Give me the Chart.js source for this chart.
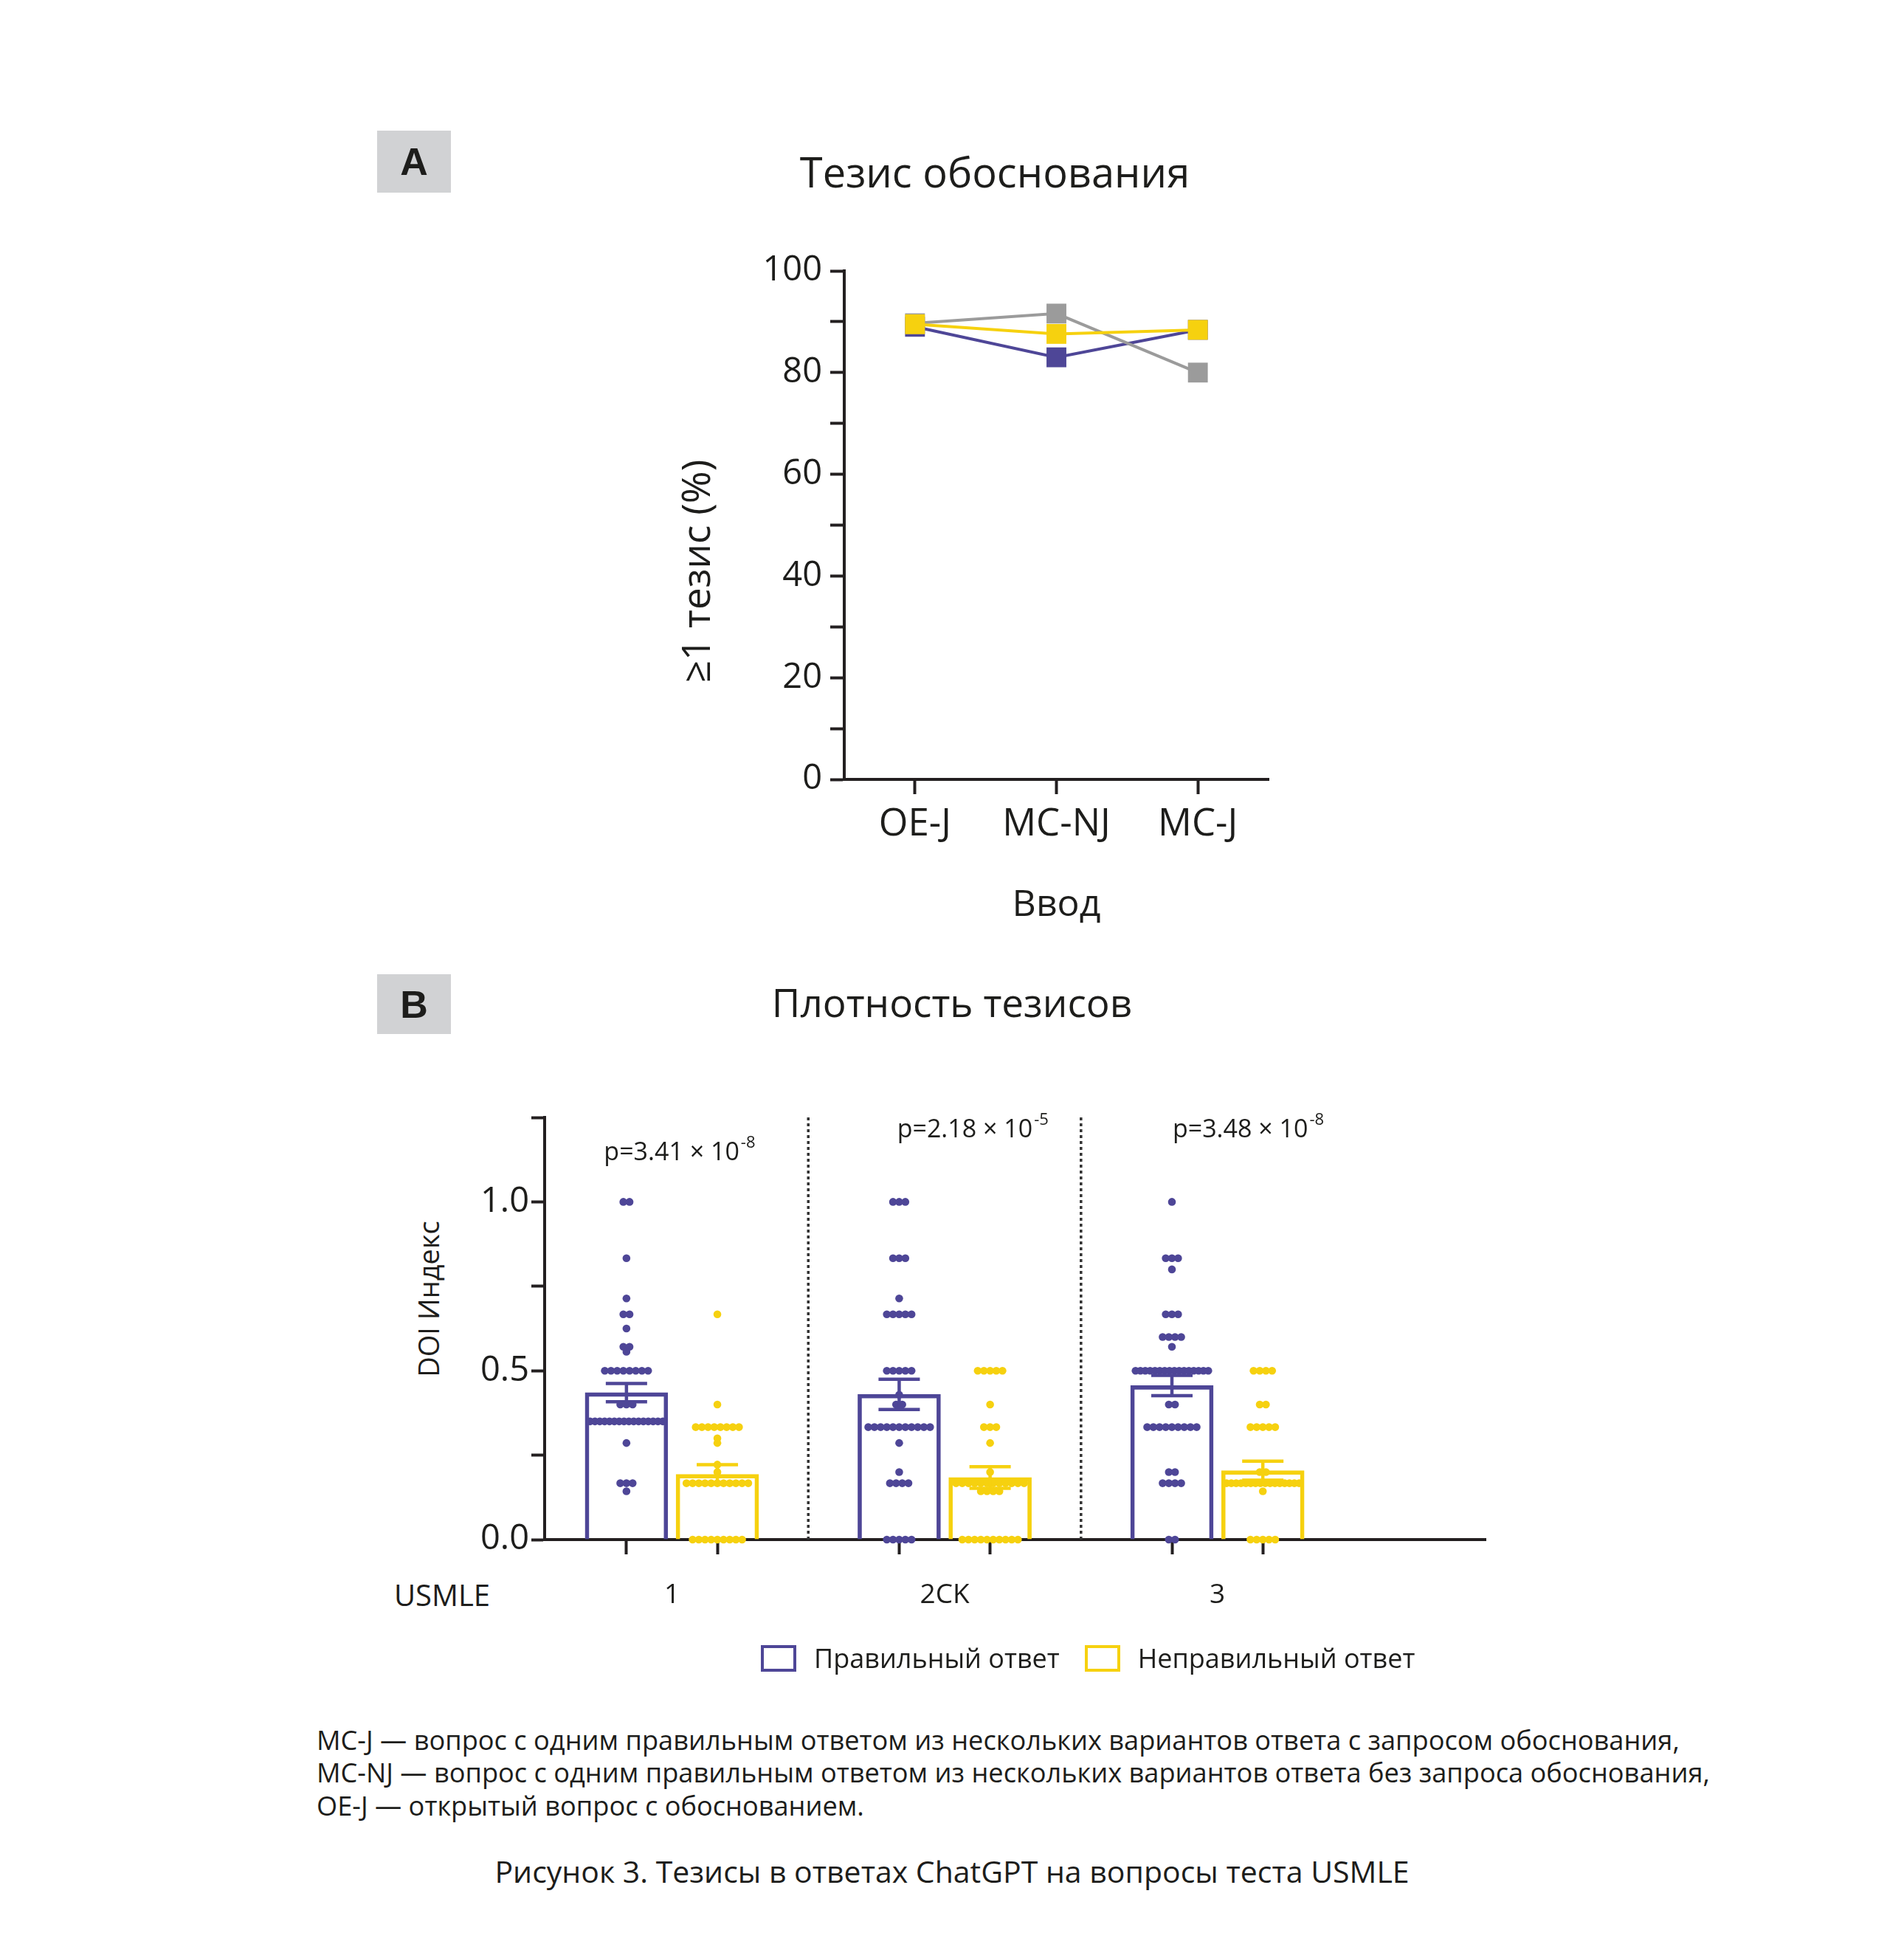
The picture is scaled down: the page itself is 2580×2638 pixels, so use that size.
<!DOCTYPE html>
<html>
<head>
<meta charset="utf-8">
<script src="https://cdn.jsdelivr.net/npm/chart.js@4.4.1/dist/chart.umd.min.js"></script>
<style>
  body { margin: 0; background: #fff; width: 2580px; height: 2638px; position: relative; overflow: hidden;
         font-family: "Open Sans", Lato, sans-serif; color: #1d1d1b; }
  .tag { position: absolute; width: 100px; height: 84px; background: #d1d2d4;
         font: bold 52px "Liberation Sans", Arial, sans-serif; display: flex; align-items: center; justify-content: center; }
  .centered { position: absolute; transform: translate(-50%, -50%); white-space: nowrap; }
  .vertical { position: absolute; transform: translate(-50%, -50%) rotate(-90deg); white-space: nowrap; }
  .chart-box { position: absolute; }
  .legend { position: absolute; left: 1031px; top: 2222px; display: flex; align-items: center; font-size: 36px; white-space: nowrap; }
  .legend .box { width: 48px; height: 36px; box-sizing: border-box; border: 4px solid; margin-right: 24px; }
  .legend .item { display: flex; align-items: center; margin-right: 34px; }
  .note { position: absolute; left: 429px; font-size: 36.2px; white-space: nowrap; }
</style>
</head>
<body>

<div class="tag" style="left:511px; top:177px;">A</div>
<div class="centered" style="left:1348px; top:232px; font-size:56px;">Тезис обоснования</div>
<div class="vertical" style="left:941px; top:774px; font-size:53px;">≥1 тезис (%)</div>
<div class="chart-box" style="left:800px; top:300px;"><canvas id="chartA" width="1000" height="1000"></canvas></div>

<div class="tag" style="left:511px; top:1320px; height:81px;">B</div>
<div class="centered" style="left:1290px; top:1357px; font-size:53px;">Плотность тезисов</div>
<div class="vertical" style="left:580px; top:1760px; font-size:38px;">DOI Индекс</div>
<div class="centered" style="left:599px; top:2160px; font-size:40px;">USMLE</div>
<div class="chart-box" style="left:400px; top:1450px;"><canvas id="chartB" width="1700" height="800"></canvas></div>

<div class="legend">
  <div class="item"><div class="box" style="border-color:#4e4697"></div>Правильный ответ</div>
  <div class="item"><div class="box" style="border-color:#f6d10f"></div>Неправильный ответ</div>
</div>

<div class="note" style="top:2332px;">MC-J — вопрос с одним правильным ответом из нескольких вариантов ответа с запросом обоснования,</div>
<div class="note" style="top:2376px;">MC-NJ — вопрос с одним правильным ответом из нескольких вариантов ответа без запроса обоснования,</div>
<div class="note" style="top:2421px;">OE-J — открытый вопрос с обоснованием.</div>
<div class="centered" style="left:1290px; top:2535px; font-size:41px;">Рисунок 3. Тезисы в ответах ChatGPT на вопросы теста USMLE</div>

<script>
const PURPLE = '#4e4697';
const YELLOW = '#f6d10f';
const GRAY = '#9b9b9b';
const AXIS = '#231f20';
const FONT = '"Open Sans", Lato, sans-serif';

// Panel A: share of answers with at least one justification thesis (%)
const inputCategories = ['OE-J', 'MC-NJ', 'MC-J'];
const purpleSeries = [89.0, 83.0, 88.4];
const graySeries = [89.7, 91.6, 80.0];
const yellowSeries = [89.5, 87.6, 88.4];
const percentLabels = [0, 20, 40, 60, 80, 100];

// Panel B: DOI index per question, [value, count]
const usmleSteps = ['1', '2CK', '3'];
const step1Correct = [[1, 2], [0.833, 1], [0.714, 1], [0.667, 2], [0.625, 1], [0.571, 2], [0.556, 1],
  [0.5, 8], [0.4, 3], [0.35, 16], [0.286, 1], [0.167, 3], [0.143, 1]];
const step1Incorrect = [[0.667, 1], [0.4, 1], [0.333, 8], [0.3, 1], [0.286, 1], [0.222, 1], [0.2, 1],
  [0.167, 11], [0, 9]];
const step2Correct = [[1, 3], [0.833, 3], [0.714, 1], [0.667, 5], [0.5, 5], [0.429, 1], [0.4, 2],
  [0.333, 11], [0.286, 1], [0.2, 1], [0.167, 4], [0, 5]];
const step2Incorrect = [[0.5, 5], [0.4, 1], [0.333, 3], [0.286, 1], [0.2, 1], [0.167, 12], [0.143, 4], [0, 10]];
const step3Correct = [[1, 1], [0.833, 3], [0.8, 1], [0.667, 3], [0.6, 4], [0.571, 1], [0.5, 16], [0.4, 2],
  [0.333, 9], [0.2, 2], [0.167, 4], [0, 2]];
const step3Incorrect = [[0.5, 4], [0.4, 2], [0.333, 5], [0.2, 2], [0.167, 16], [0.143, 1], [0, 5]];
const meanCorrect = [0.435, 0.43, 0.456];
const semCorrect = [0.027, 0.045, 0.03];
const meanIncorrect = [0.193, 0.184, 0.204];
const semIncorrect = [0.029, 0.032, 0.028];
const pValues = [['3.41', '-8'], ['2.18', '-5'], ['3.48', '-8']];
const doiLabels = [0, 0.5, 1.0];

// layout helpers (positions on the linear x axis of panel B)
const correctX = i => 3 * i + 1;
const incorrectX = i => 3 * i + 2;
const pLabelAt = [[1.585, 1.145], [4.81, 1.213], [7.84, 1.213]];
const DOT_STEP = 0.068;
const MAX_SPREAD = 0.8;

function swarm(pairs, center) {
  const pts = [];
  pairs.forEach(([v, n]) => {
    const step = n > 1 ? Math.min(DOT_STEP, MAX_SPREAD / (n - 1)) : 0;
    for (let k = 0; k < n; k++) pts.push({ x: center + (k - (n - 1) / 2) * step, y: v });
  });
  return pts;
}

Chart.defaults.font.family = FONT;
Chart.defaults.color = '#1d1d1b';

// ---------- Panel A ----------
function lineSet(data, color, order) {
  return {
    data: data, borderColor: color, backgroundColor: color, borderWidth: 4, tension: 0,
    pointStyle: 'rect', pointRadius: 19, pointBorderWidth: 0, order: order
  };
}

new Chart(document.getElementById('chartA'), {
  type: 'line',
  data: {
    labels: inputCategories,
    datasets: [lineSet(yellowSeries, YELLOW, 1), lineSet(graySeries, GRAY, 2), lineSet(purpleSeries, PURPLE, 3)]
  },
  options: {
    responsive: false,
    animation: false,
    layout: { padding: { left: 0, top: 67, right: 81, bottom: 0 } },
    plugins: { legend: { display: false }, tooltip: { enabled: false } },
    scales: {
      x: {
        offset: true,
        grid: { drawOnChartArea: false, offset: false, tickLength: 20, tickWidth: 4, tickColor: AXIS },
        border: { color: AXIS, width: 4 },
        ticks: { font: { size: 51 }, padding: 11 },
        title: { display: true, text: 'Ввод', font: { size: 50 }, padding: { top: 0, bottom: 43 } },
        afterFit: s => { s.height = 244; }
      },
      y: {
        min: 0, max: 100,
        grid: { drawOnChartArea: false, tickLength: 19, tickWidth: 4, tickColor: AXIS },
        border: { color: AXIS, width: 4 },
        ticks: {
          stepSize: 10, font: { size: 47 }, padding: 11,
          callback: v => percentLabels.includes(v) ? String(v) : ''
        },
        afterFit: s => { s.width = 344; }
      }
    }
  }
});

// ---------- Panel B ----------
const decorB = {
  id: 'decorB',
  beforeDatasetsDraw(chart) {
    const { ctx, scales: { x, y } } = chart;
    ctx.save();
    ctx.strokeStyle = '#333';
    ctx.lineWidth = 3.5;
    ctx.setLineDash([4, 4]);
    for (let i = 1; i < usmleSteps.length; i++) {
      const px = x.getPixelForValue(3 * i);
      ctx.beginPath();
      ctx.moveTo(px, y.getPixelForValue(0));
      ctx.lineTo(px, y.getPixelForValue(1.25));
      ctx.stroke();
    }
    ctx.restore();
  },
  afterDatasetsDraw(chart) {
    const { ctx, scales: { x, y } } = chart;
    ctx.save();
    const drawErr = (xv, m, e, color) => {
      const px = x.getPixelForValue(xv);
      const top = y.getPixelForValue(m + e), bot = y.getPixelForValue(m - e);
      ctx.strokeStyle = color;
      ctx.lineWidth = 4.5;
      ctx.beginPath();
      ctx.moveTo(px, top); ctx.lineTo(px, bot);
      ctx.moveTo(px - 28, top); ctx.lineTo(px + 28, top);
      ctx.moveTo(px - 28, bot); ctx.lineTo(px + 28, bot);
      ctx.stroke();
    };
    usmleSteps.forEach((_, i) => {
      drawErr(correctX(i), meanCorrect[i], semCorrect[i], PURPLE);
      drawErr(incorrectX(i), meanIncorrect[i], semIncorrect[i], YELLOW);
    });
    // p-values
    ctx.fillStyle = '#1d1d1b';
    ctx.textBaseline = 'middle';
    pValues.forEach(([mant, exp], i) => {
      const main = 'p=' + mant + ' × 10';
      ctx.font = '34px ' + FONT;
      const w1 = ctx.measureText(main).width;
      ctx.font = '22px ' + FONT;
      const w2 = ctx.measureText(exp).width;
      const cx = x.getPixelForValue(pLabelAt[i][0]);
      const cy = y.getPixelForValue(pLabelAt[i][1]);
      const left = cx - (w1 + w2 + 2) / 2;
      ctx.font = '34px ' + FONT;
      ctx.textAlign = 'left';
      ctx.fillText(main, left, cy);
      ctx.font = '22px ' + FONT;
      ctx.fillText(exp, left + w1 + 2, cy - 13);
    });
    ctx.restore();
  }
};

const dotsCorrect = [].concat(swarm(step1Correct, correctX(0)), swarm(step2Correct, correctX(1)), swarm(step3Correct, correctX(2)));
const dotsIncorrect = [].concat(swarm(step1Incorrect, incorrectX(0)), swarm(step2Incorrect, incorrectX(1)), swarm(step3Incorrect, incorrectX(2)));

function barSet(means, xf, color) {
  return {
    type: 'bar', order: 2, grouped: false, barThickness: 112,
    data: means.map((m, i) => ({ x: xf(i), y: m })),
    backgroundColor: 'rgba(255,255,255,0)', borderColor: color, borderWidth: 5
  };
}
function dotSet(points, color) {
  return { type: 'scatter', order: 1, clip: false, data: points, backgroundColor: color, pointRadius: 5.3, pointBorderWidth: 0 };
}

const tickMarksB = [];
usmleSteps.forEach((_, i) => { tickMarksB.push(correctX(i), incorrectX(i)); });

new Chart(document.getElementById('chartB'), {
  type: 'bar',
  data: {
    datasets: [
      dotSet(dotsCorrect, PURPLE),
      dotSet(dotsIncorrect, YELLOW),
      barSet(meanCorrect, correctX, PURPLE),
      barSet(meanIncorrect, incorrectX, YELLOW)
    ]
  },
  options: {
    responsive: false,
    animation: false,
    layout: { padding: { left: 0, top: 64, right: 87, bottom: 0 } },
    plugins: { legend: { display: false }, tooltip: { enabled: false } },
    scales: {
      x: {
        type: 'linear', min: 0.1, max: 10.45, position: 'bottom', offset: false,
        afterBuildTicks: s => { s.ticks = tickMarksB.map(v => ({ value: v })); },
        grid: { drawOnChartArea: false, offset: false, tickLength: 20, tickWidth: 4, tickColor: AXIS },
        border: { color: AXIS, width: 4 },
        ticks: { autoSkip: false, callback: () => '', font: { size: 10 }, padding: 0 },
        afterFit: s => { s.height = 24; }
      },
      xGroups: {
        type: 'linear', min: 0.1, max: 10.45, position: 'bottom', offset: false,
        afterBuildTicks: s => { s.ticks = usmleSteps.map((_, i) => ({ value: 3 * i + 1.5 })); },
        grid: { display: false, drawTicks: false, offset: false },
        border: { display: false },
        ticks: { autoSkip: false, maxRotation: 0, font: { size: 37 }, padding: 29, callback: (v, i) => usmleSteps[i] },
        afterFit: s => { s.height = 140; }
      },
      y: {
        min: 0, max: 1.25,
        grid: { drawOnChartArea: false, tickLength: 18, tickWidth: 4, tickColor: AXIS },
        border: { color: AXIS, width: 4 },
        ticks: {
          stepSize: 0.25, font: { size: 47 }, padding: 3,
          callback: v => doiLabels.some(d => Math.abs(d - v) < 1e-6) ? v.toFixed(1) : ''
        },
        afterFit: s => { s.width = 338; }
      }
    }
  },
  plugins: [decorB]
});
</script>
</body>
</html>
